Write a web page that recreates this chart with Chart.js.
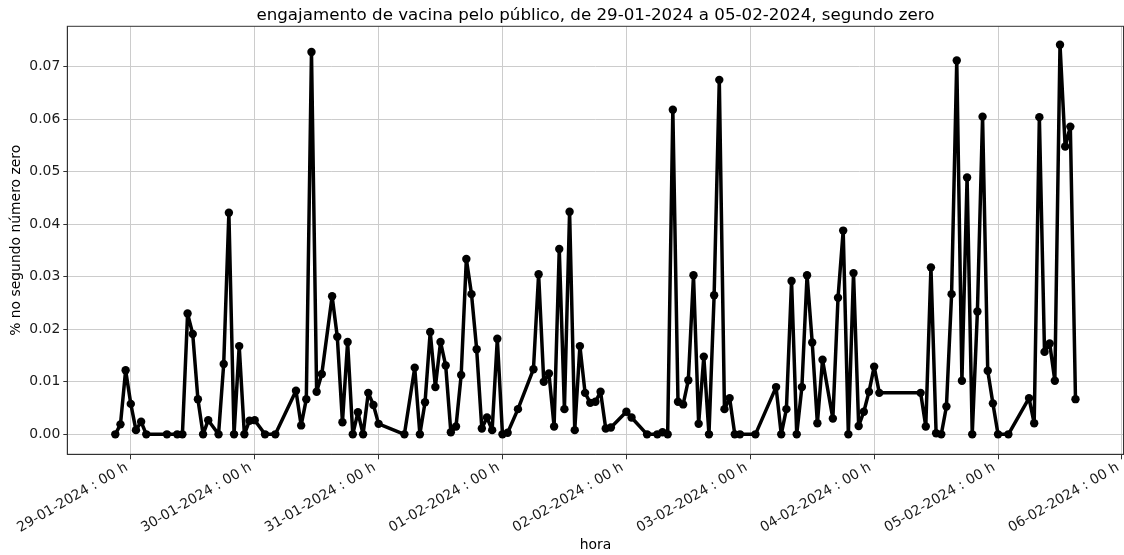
<!DOCTYPE html>
<html>
<head>
<meta charset="utf-8">
<script src="https://cdn.jsdelivr.net/npm/chart.js@4.4.1/dist/chart.umd.min.js"></script>
<style>
  html, body { margin: 0; padding: 0; background: #fff; }
  canvas { display: block; }
</style>
</head>
<body>
<canvas id="engajamentoChart" width="1124" height="555"></canvas>
<script>
// instantes (dia-mês hora) e valores
const instantes = [
    '28-01 21', '28-01 22', '28-01 23', '29-01 00', '29-01 01', '29-01 02', '29-01 03', '29-01 07',
    '29-01 09', '29-01 10', '29-01 11', '29-01 12', '29-01 13', '29-01 14', '29-01 15', '29-01 17',
    '29-01 18', '29-01 19', '29-01 20', '29-01 21', '29-01 22', '29-01 23', '30-01 00', '30-01 02',
    '30-01 04', '30-01 08', '30-01 09', '30-01 10', '30-01 11', '30-01 12', '30-01 13', '30-01 15',
    '30-01 16', '30-01 17', '30-01 18', '30-01 19', '30-01 20', '30-01 21', '30-01 22', '30-01 23',
    '31-01 00', '31-01 05', '31-01 07', '31-01 08', '31-01 09', '31-01 10', '31-01 11', '31-01 12',
    '31-01 13', '31-01 14', '31-01 15', '31-01 16', '31-01 17', '31-01 18', '31-01 19', '31-01 20',
    '31-01 21', '31-01 22', '31-01 23', '01-02 00', '01-02 01', '01-02 03', '01-02 06', '01-02 07',
    '01-02 08', '01-02 09', '01-02 10', '01-02 11', '01-02 12', '01-02 13', '01-02 14', '01-02 15',
    '01-02 16', '01-02 17', '01-02 18', '01-02 19', '01-02 20', '01-02 21', '02-02 00', '02-02 01',
    '02-02 04', '02-02 06', '02-02 07', '02-02 08', '02-02 09', '02-02 10', '02-02 11', '02-02 12',
    '02-02 13', '02-02 14', '02-02 15', '02-02 16', '02-02 17', '02-02 18', '02-02 19', '02-02 20',
    '02-02 21', '02-02 22', '03-02 01', '03-02 05', '03-02 06', '03-02 07', '03-02 08', '03-02 09',
    '03-02 10', '03-02 11', '03-02 12', '03-02 13', '03-02 14', '03-02 16', '03-02 17', '03-02 18',
    '03-02 19', '03-02 20', '03-02 21', '03-02 22', '03-02 23', '04-02 00', '04-02 01', '04-02 09',
    '04-02 10', '04-02 11', '04-02 12', '04-02 13', '04-02 14', '04-02 15', '04-02 16', '04-02 17',
    '04-02 18', '04-02 19', '04-02 20', '04-02 21', '04-02 22', '04-02 23', '05-02 00', '05-02 02',
    '05-02 06', '05-02 07', '05-02 08', '05-02 09', '05-02 10', '05-02 11', '05-02 12', '05-02 13',
    '05-02 14', '05-02 15'
];

const valores = [
    0, 0.0019, 0.0122, 0.0058, 0.0008, 0.0024, 0, 0,
    0, 0, 0.0230, 0.0191, 0.0067, 0, 0.0027, 0,
    0.0134, 0.0422, 0, 0.0168, 0, 0.0026, 0.0027, 0,
    0, 0.0083, 0.0017, 0.0067, 0.0728, 0.0081, 0.0115, 0.0263,
    0.0186, 0.0023, 0.0176, 0, 0.0042, 0, 0.0079, 0.0056,
    0.0020, 0, 0.0127, 0, 0.0061, 0.0195, 0.0090, 0.0176,
    0.0131, 0.0004, 0.0015, 0.0113, 0.0334, 0.0267, 0.0162, 0.0011,
    0.0032, 0.0008, 0.0182, 0, 0.0003, 0.0048, 0.0124, 0.0305,
    0.0100, 0.0116, 0.0015, 0.0353, 0.0048, 0.0424, 0.0008, 0.0168,
    0.0079, 0.0060, 0.0062, 0.0081, 0.0011, 0.0013, 0.0043, 0.0032,
    0, 0, 0.0004, 0, 0.0618, 0.0062, 0.0057, 0.0103,
    0.0303, 0.0020, 0.0148, 0, 0.0265, 0.0675, 0.0048, 0.0069,
    0, 0, 0, 0.0090, 0, 0.0048, 0.0292, 0,
    0.0090, 0.0303, 0.0175, 0.0021, 0.0142, 0.0030, 0.0260, 0.0388,
    0, 0.0307, 0.0016, 0.0043, 0.0081, 0.0129, 0.0079, 0.0079,
    0.0015, 0.0318, 0.0002, 0, 0.0053, 0.0267, 0.0712, 0.0102,
    0.0489, 0, 0.0234, 0.0605, 0.0121, 0.0059, 0, 0,
    0.0069, 0.0021, 0.0604, 0.0157, 0.0173, 0.0102, 0.0742, 0.0548,
    0.0586, 0.0067
];

// ticks do eixo x (horas desde 29-01-2024 00h) e respetivos rótulos
const xTickHoras = [0, 24, 48, 72, 96, 120, 144, 168, 192];
const xTickRotulos = [
    '29-01-2024 : 00 h', '30-01-2024 : 00 h', '31-01-2024 : 00 h', '01-02-2024 : 00 h',
    '02-02-2024 : 00 h', '03-02-2024 : 00 h', '04-02-2024 : 00 h', '05-02-2024 : 00 h',
    '06-02-2024 : 00 h'
];
const yTicks = [0, 0.01, 0.02, 0.03, 0.04, 0.05, 0.06, 0.07];

const titulo = 'engajamento de vacina pelo público, de 29-01-2024 a 05-02-2024, segundo zero';

// converte 'dd-mm hh' em horas desde 29-01 00h
function paraHoras(s) {
    const [data, hora] = s.split(' ');
    const [dia, mes] = data.split('-').map(Number);
    const diaAbs = mes === 1 ? dia : 31 + dia;
    return (diaAbs - 29) * 24 + Number(hora);
}

const pontos = instantes.map((s, i) => ({ x: paraHoras(s), y: valores[i] }));

const FONT = "'DejaVu Sans', sans-serif";

// título centrado sobre a área do gráfico + moldura dos eixos
const extras = {
    id: 'extras',
    afterDraw(chart) {
        const { ctx, chartArea } = chart;
        ctx.save();
        ctx.strokeStyle = '#333';
        ctx.lineWidth = 1;
        ctx.strokeRect(chartArea.left, chartArea.top, chartArea.right - chartArea.left, chartArea.bottom - chartArea.top);
        ctx.fillStyle = '#000';
        ctx.font = '16.7px ' + FONT;
        ctx.textAlign = 'center';
        ctx.textBaseline = 'alphabetic';
        ctx.fillText(titulo, (chartArea.left + chartArea.right) / 2, 20);
        ctx.restore();
    }
};

const ctx = document.getElementById('engajamentoChart').getContext('2d');

const chart = new Chart(ctx, {
    type: 'line',
    data: {
        datasets: [{
            data: pontos,
            borderColor: '#000',
            backgroundColor: '#000',
            borderWidth: 3.5,
            borderJoinStyle: 'round',
            borderCapStyle: 'round',
            pointRadius: 4.2,
            pointBackgroundColor: '#000',
            pointBorderWidth: 0,
            tension: 0
        }]
    },
    options: {
        responsive: false,
        devicePixelRatio: 1,
        animation: false,
        layout: { autoPadding: false, padding: { top: 26.3, right: 0.5, left: 0, bottom: 0 } },
        plugins: {
            legend: { display: false },
            title: { display: false },
            tooltip: { enabled: false }
        },
        scales: {
            x: {
                type: 'linear',
                min: -12.3,
                max: 192.3,
                afterBuildTicks: (scale) => { scale.ticks = xTickHoras.map(v => ({ value: v })); },
                afterFit: (scale) => {
                    scale.height = 555 - 454.3;
                    scale.paddingLeft = 0;
                    scale.paddingRight = 0;
                },
                ticks: {
                    callback: (v) => xTickRotulos[xTickHoras.indexOf(v)],
                    minRotation: 30,
                    maxRotation: 30,
                    autoSkip: false,
                    padding: 0,
                    labelOffset: -4,
                    color: '#1a1a1a',
                    font: { family: FONT, size: 13.9 }
                },
                grid: { color: '#cccccc', lineWidth: 1, tickColor: '#333', tickLength: 5 },
                border: { color: '#333', width: 1 },
                title: {
                    display: true,
                    text: 'hora',
                    color: '#000',
                    font: { family: FONT, size: 13.9 },
                    padding: { top: 0, bottom: 1 }
                }
            },
            y: {
                min: -0.0038,
                max: 0.0777,
                afterBuildTicks: (scale) => { scale.ticks = yTicks.map(v => ({ value: v })); },
                afterFit: (scale) => {
                    scale.width = 67.3;
                    scale.paddingTop = 0;
                    scale.paddingBottom = 0;
                },
                ticks: {
                    callback: (v) => v.toFixed(2),
                    padding: 3,
                    color: '#1a1a1a',
                    font: { family: FONT, size: 13.9 }
                },
                grid: { color: '#cccccc', lineWidth: 1, tickColor: '#333', tickLength: 4 },
                border: { color: '#333', width: 1 },
                title: {
                    display: true,
                    text: '% no segundo número zero',
                    color: '#000',
                    font: { family: FONT, size: 13.9 },
                    padding: { top: 8, bottom: 0 }
                }
            }
        }
    },
    plugins: [extras]
});
</script>
</body>
</html>
